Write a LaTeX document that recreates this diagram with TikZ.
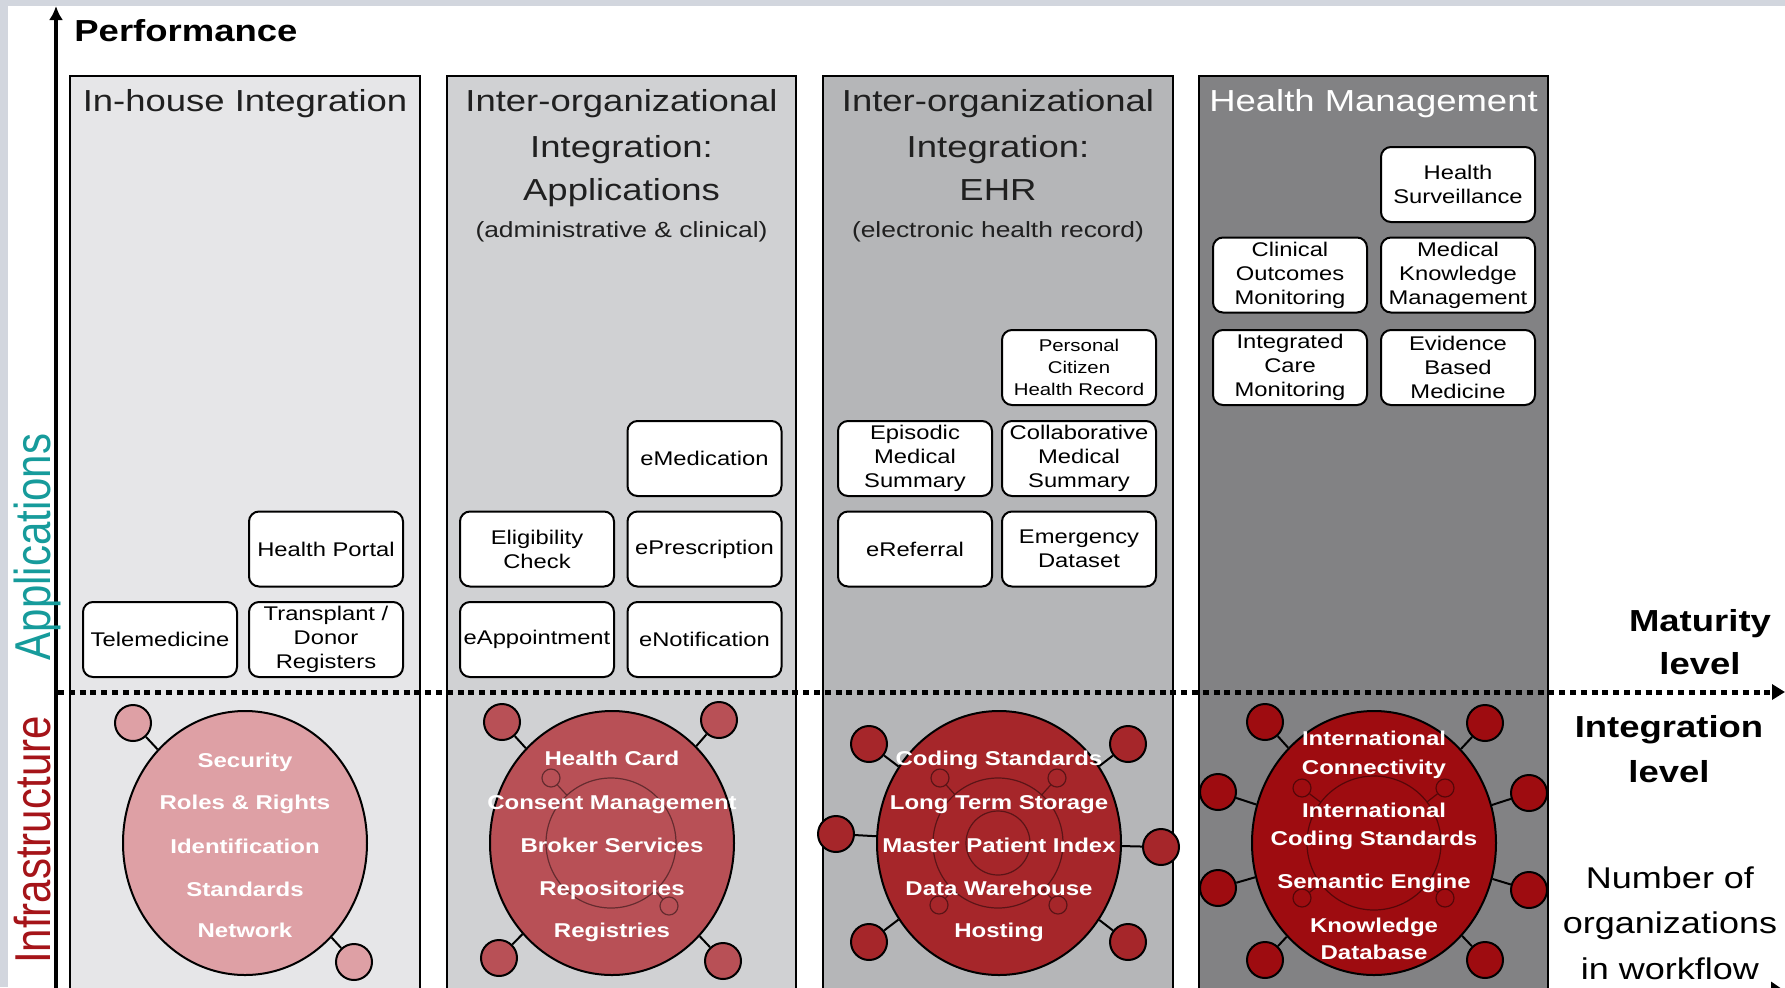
\documentclass[tikz,border=0pt]{standalone}
\usepackage{fontspec}
\setmainfont{Liberation Sans}[FakeStretch=1.2]
\newfontfamily\rotfont{Liberation Sans}
\usetikzlibrary{shapes.geometric,arrows.meta}
\definecolor{framegray}{RGB}{210,214,222}
\definecolor{colA}{RGB}{230,230,232}
\definecolor{colB}{RGB}{208,209,211}
\definecolor{colC}{RGB}{181,182,184}
\definecolor{colD}{RGB}{130,130,132}
\definecolor{redA}{RGB}{222,160,165}
\definecolor{redB}{RGB}{184,80,86}
\definecolor{redC}{RGB}{166,38,42}
\definecolor{redD}{RGB}{158,12,16}
\definecolor{appteal}{RGB}{22,155,155}
\definecolor{infred}{RGB}{165,20,25}
\definecolor{titlegray}{RGB}{32,32,32}
\begin{document}
\begin{tikzpicture}[x=0.5pt,y=-0.5pt,
  colbox/.style={draw=black, line width=1pt},
  title/.style={anchor=base, text=titlegray, font=\fontsize{15.2}{18}\selectfont, inner sep=0pt},
  subtitle/.style={anchor=base, text=titlegray, font=\fontsize{11}{13}\selectfont, inner sep=0pt},
  app/.style={draw=black, line width=1pt, fill=white, rounded corners=5pt, minimum width=77pt, minimum height=37.5pt, inner sep=0pt, align=center, font=\fontsize{9.9}{12}\selectfont},
  appsmall/.style={app, font=\fontsize{8.5}{10.8}\selectfont},
  bigc/.style={ellipse, draw=black, line width=1pt, minimum width=122pt, minimum height=132pt, inner sep=0pt},
  sat/.style={circle, draw=black, line width=1pt, minimum size=18pt, inner sep=0pt},
  innerc/.style={circle, draw=black, draw opacity=0.45, line width=0.6pt, minimum size=65pt, inner sep=0pt},
  innersat/.style={circle, draw=black, draw opacity=0.45, line width=0.6pt, minimum size=9pt, inner sep=0pt},
  conn/.style={draw=black, line width=1pt},
  innerconn/.style={draw=black, draw opacity=0.45, line width=0.6pt},
  ctext/.style={anchor=base, text=white, font=\bfseries\fontsize{10}{12}\selectfont, inner sep=0pt},
  axislabel/.style={anchor=base, font=\bfseries\fontsize{15.2}{18}\selectfont, inner sep=0pt},
  axislabelreg/.style={anchor=base, font=\fontsize{15}{18}\selectfont, inner sep=0pt},
  dotline/.style={line width=2.5pt, dash pattern=on 3pt off 2.4pt, -{Triangle[length=6.5pt,width=7.5pt]}}
]
\useasboundingbox (0,0) rectangle (1785,987);
\clip (0,0) rectangle (1785,987);
\fill[white] (0,0) rectangle (1785,987);
\fill[framegray] (0,0) rectangle (1785,6);
\fill[framegray] (0,0) rectangle (8,987);

% columns
\filldraw[colbox, fill=colA] (70,76) rectangle (420,1010);
\filldraw[colbox, fill=colB] (447,76) rectangle (796,1010);
\filldraw[colbox, fill=colC] (823,76) rectangle (1173,1010);
\filldraw[colbox, fill=colD] (1199,76) rectangle (1548,1010);

% column titles
\node[title] (t1) at (245,111) {In-house Integration};
\node[title] (t2a) at (621.5,111) {Inter-organizational};
\node[title] (t2b) at (621.5,157) {Integration:};
\node[title] (t2c) at (621.5,200) {Applications};
\node[subtitle] (t2d) at (621.5,237) {(administrative \& clinical)};
\node[title] (t3a) at (998,111) {Inter-organizational};
\node[title] (t3b) at (998,157) {Integration:};
\node[title] (t3c) at (998,200) {EHR};
\node[subtitle] (t3d) at (998,237) {(electronic health record)};
\node[title, text=white] (t4) at (1373.5,111) {Health Management};

% axes
\coordinate (ybot) at (56,1010);
\coordinate (ytop) at (56,6);
\draw[line width=2pt, -{Latex[length=7pt,width=7pt]}] (ybot) -- (ytop);
\coordinate (xl) at (56,991);
\coordinate (xr) at (1785,991);
\draw[line width=2pt, -{Triangle[length=7pt,width=9pt]}] (xl) -- (xr);
\coordinate (dl) at (58,692);
\coordinate (dr) at (1785,692);
\draw[dotline] (dl) -- (dr);

\node[anchor=base west, inner sep=0pt, font=\bfseries\fontsize{15.2}{18}\selectfont] (perf) at (74,41) {Performance};

\node[rotate=90, anchor=base, inner sep=0pt, text=appteal] (lapp) at (50,547) {\rotfont\fontsize{21}{25}\selectfont\scalebox{1}[1.2]{Applications}};
\node[rotate=90, anchor=base, inner sep=0pt, text=infred] (linf) at (50,840) {\rotfont\fontsize{21}{25}\selectfont\scalebox{1}[1.2]{Infrastructure}};

% right labels
\node[axislabel] (m1) at (1700,631) {Maturity};
\node[axislabel] (m2) at (1700,674) {level};
\node[axislabel] (i1) at (1669,737) {Integration};
\node[axislabel] (i2) at (1669,782) {level};
\node[axislabelreg] (n1) at (1670,888) {Number of};
\node[axislabelreg] (n2) at (1670,933) {organizations};
\node[axislabelreg] (n3) at (1670,979) {in workflow};

% application boxes column 1
\node[app] (telemed) at (160,639.5) {Telemedicine};
\node[app] (portal) at (326,549) {Health Portal};
\node[app] (transplant) at (326,639.5) {Transplant /\\Donor\\Registers};
% column 2
\node[app] (elig) at (537,549) {Eligibility\\Check};
\node[app] (eappt) at (537,639.5) {eAppointment};
\node[app] (emed) at (704.5,458.5) {eMedication};
\node[app] (epres) at (704.5,549) {ePrescription};
\node[app] (enot) at (704.5,639.5) {eNotification};
% column 3
\node[appsmall] (pchr) at (1079,367.5) {Personal\\Citizen\\Health Record};
\node[app] (episodic) at (915,458.5) {Episodic\\Medical\\Summary};
\node[app] (collab) at (1079,458.5) {Collaborative\\Medical\\Summary};
\node[app] (eref) at (915,549) {eReferral};
\node[app] (emerg) at (1079,549) {Emergency\\Dataset};
% column 4
\node[app] (surv) at (1458,184.5) {Health\\Surveillance};
\node[app] (clin) at (1290,275) {Clinical\\Outcomes\\Monitoring};
\node[app] (mkm) at (1458,275) {Medical\\Knowledge\\Management};
\node[app] (icm) at (1290,367.5) {Integrated\\Care\\Monitoring};
\node[app] (ebm) at (1458,367.5) {Evidence\\Based\\Medicine};

% ---- infrastructure circles ----
% column 1
\node[bigc, fill=redA] (c1) at (245,843) {};
\node[sat, fill=redA] (c1a) at (133,723) {};
\node[sat, fill=redA] (c1b) at (354,962) {};
\draw[conn] (c1a) -- (c1);
\draw[conn] (c1b) -- (c1);
\node[ctext] (c1t1) at (245,767) {Security};
\node[ctext] (c1t2) at (245,809) {Roles \& Rights};
\node[ctext] (c1t3) at (245,853) {Identification};
\node[ctext] (c1t4) at (245,896) {Standards};
\node[ctext] (c1t5) at (245,937) {Network};

% column 2
\node[bigc, fill=redB] (c2) at (612,843) {};
\node[sat, fill=redB] (c2a) at (502,722) {};
\node[sat, fill=redB] (c2b) at (719,720) {};
\node[sat, fill=redB] (c2c) at (499,958) {};
\node[sat, fill=redB] (c2d) at (723,961) {};
\foreach \s in {c2a,c2b,c2c,c2d} \draw[conn] (\s) -- (c2);
\node[innerc] (c2i) at (611,843) {};
\node[innersat] (c2ia) at (551,778) {};
\node[innersat] (c2ib) at (669,906) {};
\draw[innerconn] (c2ia) -- (c2i);
\draw[innerconn] (c2ib) -- (c2i);
\node[ctext] (c2t1) at (612,765) {Health Card};
\node[ctext] (c2t2) at (612,809) {Consent Management};
\node[ctext] (c2t3) at (612,852) {Broker Services};
\node[ctext] (c2t4) at (612,895) {Repositories};
\node[ctext] (c2t5) at (612,937) {Registries};

% column 3
\node[bigc, fill=redC] (c3) at (999,843) {};
\node[sat, fill=redC] (c3a) at (869,744) {};
\node[sat, fill=redC] (c3b) at (1128,744) {};
\node[sat, fill=redC] (c3c) at (836,834) {};
\node[sat, fill=redC] (c3d) at (1161,847) {};
\node[sat, fill=redC] (c3e) at (869,942) {};
\node[sat, fill=redC] (c3f) at (1128,942) {};
\foreach \s in {c3a,c3b,c3c,c3d,c3e,c3f} \draw[conn] (\s) -- (c3);
\node[innerc] (c3i) at (998,843) {};
\node[innerc, minimum size=32pt] (c3j) at (998,843) {};
\node[innersat] (c3ia) at (940,778) {};
\node[innersat] (c3ib) at (1057,778) {};
\node[innersat] (c3ic) at (939,905) {};
\node[innersat] (c3id) at (1058,905) {};
\foreach \s in {c3ia,c3ib,c3ic,c3id} \draw[innerconn] (\s) -- (c3i);
\node[ctext] (c3t1) at (999,765) {Coding Standards};
\node[ctext] (c3t2) at (999,809) {Long Term Storage};
\node[ctext] (c3t3) at (999,852) {Master Patient Index};
\node[ctext] (c3t4) at (999,895) {Data Warehouse};
\node[ctext] (c3t5) at (999,937) {Hosting};

% column 4
\node[bigc, fill=redD] (c4) at (1374,843) {};
\node[sat, fill=redD] (c4a) at (1265,722) {};
\node[sat, fill=redD] (c4b) at (1485,723) {};
\node[sat, fill=redD] (c4c) at (1218,792) {};
\node[sat, fill=redD] (c4d) at (1529,793) {};
\node[sat, fill=redD] (c4e) at (1218,888) {};
\node[sat, fill=redD] (c4f) at (1529,890) {};
\node[sat, fill=redD] (c4g) at (1265,960) {};
\node[sat, fill=redD] (c4h) at (1485,960) {};
\foreach \s in {c4a,c4b,c4c,c4d,c4e,c4f,c4g,c4h} \draw[conn] (\s) -- (c4);
\node[innerc, minimum size=67pt] (c4i) at (1374,843) {};
\node[innersat] (c4ia) at (1302,788) {};
\node[innersat] (c4ib) at (1445,788) {};
\node[innersat] (c4ic) at (1302,898) {};
\node[innersat] (c4id) at (1445,898) {};
\foreach \s in {c4ia,c4ib,c4ic,c4id} \draw[innerconn] (\s) -- (c4i);
\node[ctext] (c4t1) at (1374,745) {International};
\node[ctext] (c4t2) at (1374,774) {Connectivity};
\node[ctext] (c4t3) at (1374,817) {International};
\node[ctext] (c4t4) at (1374,845) {Coding Standards};
\node[ctext] (c4t5) at (1374,888) {Semantic Engine};
\node[ctext] (c4t6) at (1374,932) {Knowledge};
\node[ctext] (c4t7) at (1374,959) {Database};
\end{tikzpicture}
\end{document}
